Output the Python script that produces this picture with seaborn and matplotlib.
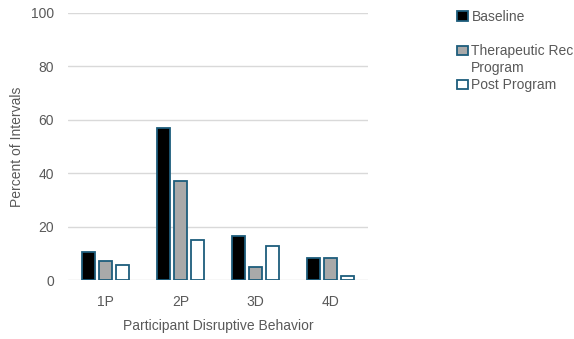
import matplotlib
matplotlib.use("Agg")
import matplotlib.pyplot as plt
import seaborn as sns
import pandas as pd
from matplotlib.patches import Patch

categories = ["1P", "2P", "3D", "4D"]
series_names = ["Baseline", "Therapeutic Rec Program", "Post Program"]
baseline = [10.5, 57.0, 16.4, 8.1]
therapeutic = [7.0, 37.2, 5.0, 8.4]
post_program = [5.6, 15.1, 12.7, 1.6]

fills = ["#000000", "#a9a9a9", "#ffffff"]
edge = "#1d5d7c"
text_gray = "#595959"
fs = 10

rows = []
for name, vals in zip(series_names, [baseline, therapeutic, post_program]):
    for cat, v in zip(categories, vals):
        rows.append({"Behavior": cat, "Phase": name, "Percent": v})
df = pd.DataFrame(rows)

sns.set_style("white")
plt.rcParams["font.family"] = ["Liberation Sans", "DejaVu Sans"]

fig = plt.figure(figsize=(5.74, 3.39), dpi=100)
ax = fig.add_axes([0.1185, 0.174, 0.5226, 0.788])

sns.barplot(data=df, x="Behavior", y="Percent", hue="Phase", order=categories,
            hue_order=series_names, palette=fills, width=0.67, gap=0.2,
            edgecolor=edge, linewidth=1.3, legend=False, ax=ax, errorbar=None)

ax.set_ylim(0, 100)
ax.set_yticks([0, 20, 40, 60, 80, 100])
ax.set_xlim(-0.5, 3.5)
ax.yaxis.grid(True, color="#d9d9d9", linewidth=1.0)
ax.set_axisbelow(True)
for s in ax.spines.values():
    s.set_visible(False)
ax.tick_params(axis="both", length=0, labelsize=fs, labelcolor=text_gray)
ax.tick_params(axis="y", pad=10)
ax.tick_params(axis="x", pad=11)
ax.set_xlabel("Participant Disruptive Behavior", fontsize=fs, color=text_gray, labelpad=7)
ax.set_ylabel("Percent of Intervals", fontsize=fs, color=text_gray, labelpad=5)

# legend entries, one per phase
legend_labels = ["Baseline", "Therapeutic Rec", "Post Program"]
legend_y = [0.950, 0.849, 0.749]
for lab, fc, yy in zip(legend_labels, fills, legend_y):
    h = Patch(facecolor=fc, edgecolor=edge, linewidth=1.3)
    fig.legend([h], [lab], loc="center left", bbox_to_anchor=(0.796, yy),
               frameon=False, fontsize=fs, handlelength=0.8, handleheight=0.65,
               handletextpad=0.25, borderpad=0, borderaxespad=0,
               labelcolor=text_gray)
fig.text(0.821, 0.798, "Program", fontsize=fs, color=text_gray, va="center", ha="left")

fig.savefig("out.png", dpi=100)
